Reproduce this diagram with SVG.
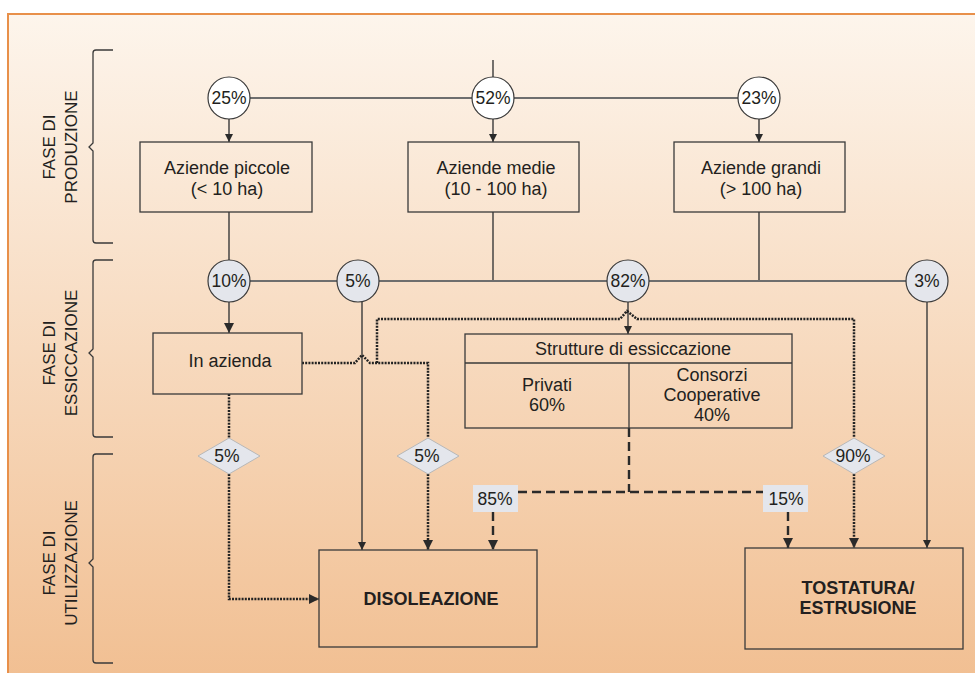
<svg xmlns="http://www.w3.org/2000/svg" width="975" height="673" viewBox="0 0 975 673">
<defs>
<linearGradient id="bg" x1="0" y1="0" x2="0" y2="1">
<stop offset="0" stop-color="#FDF5EC"/>
<stop offset="1" stop-color="#F1BE90"/>
</linearGradient>
<marker id="ah" viewBox="0 0 8 8" refX="8" refY="4" markerWidth="8" markerHeight="8" markerUnits="userSpaceOnUse" orient="auto">
<path d="M0,0 L8,4 L0,8 z" fill="#2a2a2a"/>
</marker>
<marker id="ahb" viewBox="0 0 10 10" refX="10" refY="5" markerWidth="10" markerHeight="10" markerUnits="userSpaceOnUse" orient="auto">
<path d="M0,0 L10,5 L0,10 z" fill="#2a2a2a"/>
</marker>
</defs>
<style>
text{font-family:"Liberation Sans",Arial,sans-serif;fill:#231F20}
.t{font-size:18px;text-anchor:middle}
.p{font-size:17.5px;text-anchor:middle}
.ph{font-size:17px;text-anchor:middle}
.b{font-size:18px;font-weight:bold;text-anchor:middle}
.box{fill:none;stroke:#3a3a3a;stroke-width:1.3}
.c1{fill:#ffffff;stroke:#3a3a3a;stroke-width:1.2}
.c2{fill:#E4E6EC;stroke:#3a3a3a;stroke-width:1.2}
.dia{fill:#E4E6EC;stroke:#b8b8b8;stroke-width:1}
.lab{fill:#E4E6EC}
.s{fill:none;stroke:#3a3a3a;stroke-width:1.4}
.sg{fill:none;stroke:#6e6e6e;stroke-width:1.8}
.d{fill:none;stroke:#222;stroke-width:2.5;stroke-dasharray:2,1.2}
.ds{fill:none;stroke:#2a2a2a;stroke-width:2.4;stroke-dasharray:9,5}
.br{fill:none;stroke:#3a3a3a;stroke-width:1.3}
</style>
<rect x="0" y="0" width="975" height="673" fill="#ffffff"/>
<rect x="8" y="14" width="980" height="680" fill="url(#bg)" stroke="#E8904A" stroke-width="2"/>

<g id="phases">
<path class="br" d="M113,50 H96 Q93,50 93,53 V143 L89,147 L93,151 V240 Q93,243 96,243 H113"/>
<path class="br" d="M113,260 H96 Q93,260 93,263 V349 L89,353 L93,357 V434 Q93,437 96,437 H113"/>
<path class="br" d="M113,454 H96 Q93,454 93,457 V559 L89,563 L93,567 V660 Q93,663 96,663 H113"/>
<text class="ph" transform="translate(55,147) rotate(-90)">FASE DI</text>
<text class="ph" transform="translate(77,147) rotate(-90)">PRODUZIONE</text>
<text class="ph" transform="translate(55,353) rotate(-90)">FASE DI</text>
<text class="ph" transform="translate(77,353) rotate(-90)">ESSICCAZIONE</text>
<text class="ph" transform="translate(55,563) rotate(-90)">FASE DI</text>
<text class="ph" transform="translate(77,563) rotate(-90)">UTILIZZAZIONE</text>
</g>

<g id="connectors">
<line class="sg" x1="229" y1="98" x2="759" y2="98"/>
<line class="s" x1="493" y1="60" x2="493" y2="77"/>
<line class="s" x1="229" y1="119" x2="229" y2="142" marker-end="url(#ah)"/>
<line class="s" x1="493" y1="119" x2="493" y2="142" marker-end="url(#ah)"/>
<line class="s" x1="759" y1="119" x2="759" y2="142" marker-end="url(#ah)"/>
<line class="s" x1="229" y1="212" x2="229" y2="260"/>
<line class="s" x1="493" y1="212" x2="493" y2="281"/>
<line class="s" x1="759" y1="212" x2="759" y2="281"/>
<line class="sg" x1="229" y1="281" x2="927" y2="281"/>
<line class="s" x1="229" y1="302" x2="229" y2="333" marker-end="url(#ahb)"/>
<line class="s" x1="362" y1="302" x2="362" y2="550" marker-end="url(#ah)"/>
<line class="s" x1="628" y1="302" x2="628" y2="334" marker-end="url(#ah)"/>
<line class="s" x1="927" y1="302" x2="927" y2="548" marker-end="url(#ah)"/>
<path class="d" d="M302,363 H355 L362,355 L370,363 H428 V438"/>
<path class="d" d="M377,363 V319 H620 L627,311 L637,319 H854 V438"/>
<path class="d" d="M229,394 V438"/>
<path class="d" d="M229,474 V599 H319" marker-end="url(#ahb)"/>
<path class="d" d="M428,474 V550" marker-end="url(#ahb)"/>
<path class="d" d="M854,474 V548" marker-end="url(#ahb)"/>
<path class="ds" d="M629,428 V492"/>
<path class="ds" d="M518,492 H763"/>
<path class="ds" d="M493,512 V550" marker-end="url(#ahb)"/>
<path class="ds" d="M788,512 V548" marker-end="url(#ahb)"/>
</g>

<g id="p25"><circle class="c1" cx="229" cy="98" r="21"/><text class="p" x="229" y="104">25%</text></g>
<g id="p52"><circle class="c1" cx="493" cy="98" r="21"/><text class="p" x="493" y="104">52%</text></g>
<g id="p23"><circle class="c1" cx="759" cy="98" r="21"/><text class="p" x="759" y="104">23%</text></g>

<g id="piccole"><rect class="box" x="140" y="142" width="172" height="70"/><text class="t" x="227" y="174">Aziende piccole</text><text class="t" x="227" y="195">(&lt; 10 ha)</text></g>
<g id="medie"><rect class="box" x="408" y="142" width="171" height="70"/><text class="t" x="496" y="174">Aziende medie</text><text class="t" x="496" y="195">(10 - 100 ha)</text></g>
<g id="grandi"><rect class="box" x="674" y="142" width="171" height="70"/><text class="t" x="761" y="174">Aziende grandi</text><text class="t" x="761" y="195">(&gt; 100 ha)</text></g>

<g id="p10"><circle class="c2" cx="229" cy="281" r="21"/><text class="p" x="229" y="287">10%</text></g>
<g id="p5"><circle class="c2" cx="358" cy="281" r="21"/><text class="p" x="358" y="287">5%</text></g>
<g id="p82"><circle class="c2" cx="628" cy="281" r="21"/><text class="p" x="628" y="287">82%</text></g>
<g id="p3"><circle class="c2" cx="927" cy="281" r="21"/><text class="p" x="927" y="287">3%</text></g>

<g id="inazienda"><rect class="box" x="153" y="333" width="149" height="61"/><text class="t" x="230" y="367">In azienda</text></g>

<g id="strutture">
<rect class="box" x="465" y="334" width="327" height="94"/>
<line class="box" x1="465" y1="363" x2="792" y2="363"/>
<line class="box" x1="629" y1="363" x2="629" y2="428"/>
<text class="t" x="633" y="355">Strutture di essiccazione</text>
<text class="t" x="547" y="391">Privati</text>
<text class="t" x="547" y="411">60%</text>
<text class="t" x="712" y="381">Consorzi</text>
<text class="t" x="712" y="401">Cooperative</text>
<text class="t" x="712" y="421">40%</text>
</g>

<g id="d5a"><polygon class="dia" points="229,438 260,456 229,474 198,456"/><text class="p" x="227" y="462">5%</text></g>
<g id="d5b"><polygon class="dia" points="428,438 459,456 428,474 397,456"/><text class="p" x="427" y="462">5%</text></g>
<g id="d90"><polygon class="dia" points="854,438 885,456 854,474 823,456"/><text class="p" x="853" y="462">90%</text></g>

<g id="l85"><rect class="lab" x="473" y="485" width="45" height="27"/><text class="p" x="495" y="505">85%</text></g>
<g id="l15"><rect class="lab" x="763" y="485" width="45" height="27"/><text class="p" x="786" y="505">15%</text></g>

<g id="disoleazione"><rect class="box" x="319" y="550" width="218" height="97"/><text class="b" x="431" y="605">DISOLEAZIONE</text></g>
<g id="tostatura"><rect class="box" x="745" y="548" width="218" height="101"/><text class="b" x="858" y="594">TOSTATURA/</text><text class="b" x="858" y="614">ESTRUSIONE</text></g>
</svg>
